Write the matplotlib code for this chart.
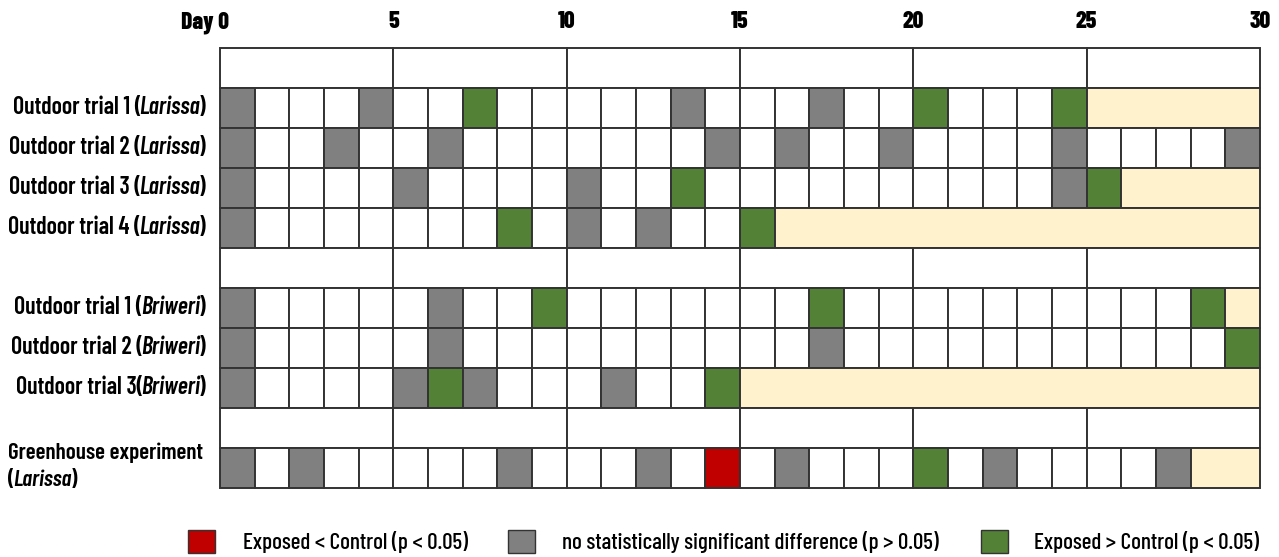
import matplotlib
matplotlib.use("Agg")
import matplotlib.pyplot as plt
from matplotlib.patches import Rectangle
from matplotlib.transforms import offset_copy

# status per day (30 cells): n = no significant difference, p = exposed > control,
# m = exposed < control, . = white, x = experiment already finished
larissa1 = "n...n..p.....n...n..p...pxxxxx"
larissa2 = "n..n..n.......n.n..n....n....n"
larissa3 = "n....n....n..p..........npxxxx"
larissa4 = "n.......p.n.n..pxxxxxxxxxxxxxx"
briweri1 = "n.....n..p.......p..........px"
briweri2 = "n.....n..........n...........p"
briweri3 = "n....npn...n..pxxxxxxxxxxxxxxx"
greenhouse = "n.n.....n...n.m.n...p.n....nxx"

row_status = [None, larissa1, larissa2, larissa3, larissa4, None,
              briweri1, briweri2, briweri3, None, greenhouse]
row_labels = [None,
              ("Outdoor trial 1 (", "Larissa"), ("Outdoor trial 2 (", "Larissa"),
              ("Outdoor trial 3 (", "Larissa"), ("Outdoor trial 4 (", "Larissa"),
              None,
              ("Outdoor trial 1 (", "Briweri"), ("Outdoor trial 2 (", "Briweri"),
              ("Outdoor trial 3(", "Briweri"),
              None, None]
day_ticks = [0, 5, 10, 15, 20, 25, 30]
legend_labels = ["Exposed < Control (p < 0.05)",
                 "no statistically significant difference (p > 0.05)",
                 "Exposed > Control (p < 0.05)"]

colors = {"n": "#808080", "p": "#538135", "m": "#C00000", ".": "white", "x": "#FFF2CC"}
edge = "#333333"
lw = 1.4

plt.rcParams["font.family"] = ["Barlow Condensed", "DejaVu Sans"]

W, H = 1279, 557
fig = plt.figure(figsize=(W / 100, H / 100), dpi=100)
ax = fig.add_axes([220 / W, (H - 488) / H, 1040 / W, 440 / H])
ax.set_xlim(0, 30)
ax.set_ylim(11, 0)
ax.axis("off")

for r, status in enumerate(row_status):
    if status is None:
        # header / spacer rows: blocks of 5 days
        for d in range(0, 30, 5):
            ax.add_patch(Rectangle((d, r), 5, 1, facecolor="white", edgecolor=edge,
                                   lw=lw, clip_on=False))
        continue
    end = status.find("x")
    if end == -1:
        end = 30
    for d in range(end):
        ax.add_patch(Rectangle((d, r), 1, 1, facecolor=colors[status[d]],
                               edgecolor=edge, lw=lw, clip_on=False))
    if end < 30:
        ax.add_patch(Rectangle((end, r), 30 - end, 1, facecolor=colors["x"],
                               edgecolor=edge, lw=lw, clip_on=False))

# day labels on top
for d in day_ticks:
    if d == 0:
        ax.text(0.26, -0.64, "Day 0", ha="right", va="center", fontsize=17,
                fontweight=800, clip_on=False)
    else:
        ax.text(d, -0.64, str(d), ha="center", va="center", fontsize=17,
                fontweight=800, clip_on=False)

renderer = fig.canvas.get_renderer()
label_size = 17.2
label_weight = 600


def mixed_label(y, normal, italic, x=-0.42):
    # normal text + italic species + ")" right aligned, drawn from the right
    shift = 0
    for txt, style, kern in [(")", "normal", 1), (italic, "italic", 2), (normal, "normal", 0)]:
        tr = offset_copy(ax.transData, fig=fig, x=-shift, y=0, units="dots")
        t = ax.text(x, y, txt, ha="right", va="center", fontsize=label_size,
                    style=style, weight=label_weight, transform=tr, clip_on=False)
        shift += t.get_window_extent(renderer).width - kern


for r, lab in enumerate(row_labels):
    if lab is not None:
        mixed_label(r + 0.5, lab[0], lab[1])

# greenhouse label (two lines, left aligned)
gx = -6.12
gh_size = 16.6
ax.text(gx, 10.12, "Greenhouse experiment", ha="left", va="center",
        fontsize=gh_size, weight=label_weight, clip_on=False)
t1 = ax.text(gx, 10.8, "(", ha="left", va="center", fontsize=gh_size,
             weight=label_weight, clip_on=False)
w1 = t1.get_window_extent(renderer).width - 1
t2 = ax.text(gx, 10.8, "Larissa", ha="left", va="center", fontsize=gh_size,
             style="italic", weight=label_weight, clip_on=False,
             transform=offset_copy(ax.transData, fig=fig, x=w1, units="dots"))
w2 = t2.get_window_extent(renderer).width - 1
ax.text(gx, 10.8, ")", ha="left", va="center", fontsize=gh_size,
        weight=label_weight, clip_on=False,
        transform=offset_copy(ax.transData, fig=fig, x=w1 + w2, units="dots"))

# legend
leg_y = 12.34
leg_sq = [-0.92, 8.31, 21.96]
leg_tx = [0.66, 9.86, 23.48]
leg_col = [colors["m"], colors["n"], colors["p"]]
for sx, tx, c, lab in zip(leg_sq, leg_tx, leg_col, legend_labels):
    ax.add_patch(Rectangle((sx, leg_y - 0.29), 0.78, 0.58, facecolor=c,
                           edgecolor=edge, lw=1.0, clip_on=False))
    ax.text(tx, leg_y, lab, ha="left", va="center", fontsize=16.6,
            weight=label_weight - 100, clip_on=False)

fig.savefig("out.png", dpi=100)
